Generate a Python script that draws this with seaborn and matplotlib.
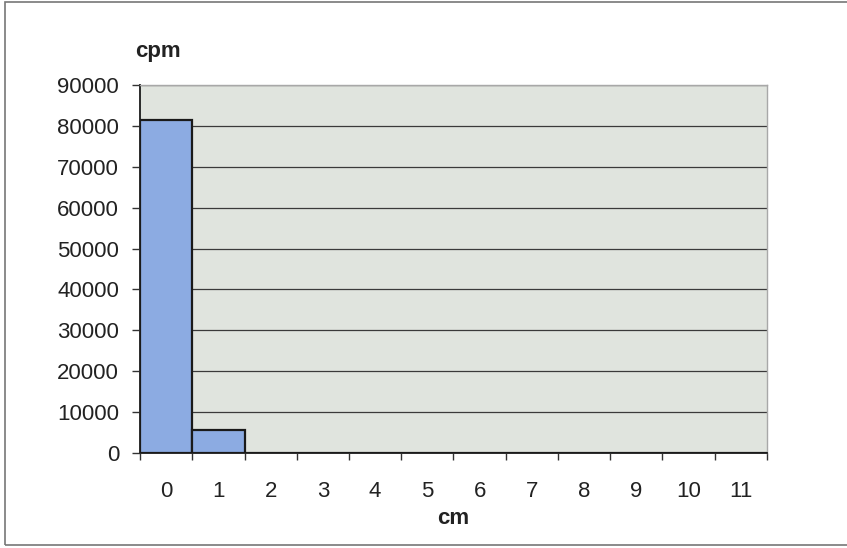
import matplotlib
matplotlib.use("Agg")
import matplotlib.pyplot as plt
import seaborn as sns
import pandas as pd
import numpy as np

# Activity per 1 cm slice
positions = ["0", "1", "2", "3", "4", "5", "6", "7", "8", "9", "10", "11"]
cpm_values = [81500, 5600, 60, 50, 40, 30, 30, 20, 20, 20, 20, 20]
y_ticks = [0, 10000, 20000, 30000, 40000, 50000, 60000, 70000, 80000, 90000]

sns.set_theme(style="white")
plt.rcParams["font.family"] = ["Liberation Sans", "DejaVu Sans"]

df = pd.DataFrame({"cm": positions, "cpm": cpm_values})

fig = plt.figure(figsize=(8.47, 5.48), dpi=100)
fig.patch.set_facecolor("white")
ax = fig.add_axes([0.1653, 0.1734, 0.9055 - 0.1653, 0.8449 - 0.1734])
ax.set_facecolor("#e0e4de")

sns.barplot(data=df, x="cm", y="cpm", order=positions, color="#8cabe2",
            saturation=1, width=1.0, edgecolor="#1a1a1a", linewidth=1.6,
            ax=ax, zorder=3)

ax.set_ylim(0, 90000)
ax.set_xlim(-0.5, len(positions) - 0.5)
ax.set_yticks(y_ticks)
ax.set_yticklabels([str(v) for v in y_ticks], fontsize=16, color="#222222")
ax.yaxis.grid(True, color="#3a3a3a", linewidth=0.9, zorder=1)
ax.xaxis.grid(False)

# category labels centred, tick marks on the boundaries
ax.tick_params(axis="x", which="major", length=0, pad=20, labelsize=16,
               labelcolor="#222222")
ax.set_xticks(np.arange(-0.5, len(positions) + 0.5, 1.0), minor=True)
ax.tick_params(axis="x", which="minor", length=5, width=1.0, color="#333333",
               direction="out", bottom=True)
ax.tick_params(axis="y", which="major", length=6, width=1.0, color="#333333",
               direction="out", left=True, pad=9)

for side in ("top", "right"):
    ax.spines[side].set_color("#a8a8a8")
    ax.spines[side].set_linewidth(1.0)
for side in ("left", "bottom"):
    ax.spines[side].set_color("#2a2a2a")
    ax.spines[side].set_linewidth(1.4)

ax.set_xlabel("")
ax.set_ylabel("")
fig.text(135 / 847, 1 - 52 / 548, "cpm", fontsize=16, fontweight="bold",
         color="#222222", ha="left", va="center")
fig.text(453 / 847, 1 - 519 / 548, "cm", fontsize=16, fontweight="bold",
         color="#222222", ha="center", va="center")

# outer chart frame
frame = plt.Rectangle((5 / 847, 3 / 548), 1.2, 1 - 5 / 548,
                      transform=fig.transFigure, fill=False,
                      edgecolor="#777777", linewidth=1.2)
fig.add_artist(frame)

fig.savefig("out.png", dpi=100, facecolor="white")
